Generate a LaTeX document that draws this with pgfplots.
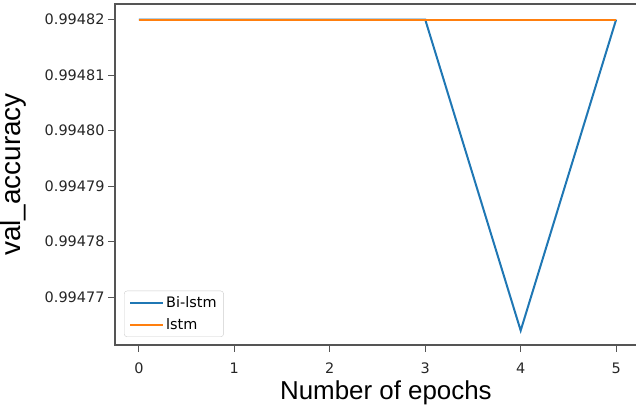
\documentclass[border=0pt]{standalone}
\usepackage{pgfplots}
\pgfplotsset{compat=1.18}
\usepackage{fontspec}
\setmainfont{DejaVu Sans}
\newfontfamily\labelfont{Liberation Sans}
\definecolor{mplblue}{HTML}{1F77B4}
\definecolor{mplorange}{HTML}{FF7F0E}
\definecolor{spine}{HTML}{555555}
\begin{document}
\begin{tikzpicture}
\useasboundingbox (0,0) rectangle (636bp,407bp);
\begin{axis}[
  at={(115bp,62bp)}, anchor=south west,
  scale only axis,
  width=525bp, height=341bp,
  xmin=-0.25, xmax=5.25,
  ymin=0.9947614, ymax=0.9948228,
  xtick={0,1,2,3,4,5},
  ytick={0.99477,0.99478,0.99479,0.99480,0.99481,0.99482},
  yticklabels={0.99477,0.99478,0.99479,0.99480,0.99481,0.99482},
  xtick pos=bottom, ytick pos=left,
  tick align=outside,
  major tick length=7bp,
  tick style={spine, line width=1bp},
  axis line style={spine, line width=1.2bp},
  ticklabel style={font=\fontsize{14.5}{16}\selectfont, text=black!85},
  xticklabel style={yshift=-7bp},
  /pgf/number format/assume math mode=true,
  xlabel={\labelfont\fontsize{26}{30}\selectfont Number of epochs},
  ylabel={\labelfont\fontsize{28}{32}\selectfont val\_accuracy},
  xlabel style={at={(axis description cs:0.516,0)}, anchor=north, yshift=-32bp},
  ylabel style={at={(axis description cs:0,0.5)}, anchor=south, yshift=85bp},
  legend style={at={(9bp,8bp)}, anchor=south west, font=\fontsize{14.5}{16}\selectfont,
    draw=black!20, rounded corners=3bp, fill=white, fill opacity=0.8, text opacity=1,
    row sep=5bp, inner xsep=5bp, inner ysep=4bp},
  legend cell align=left,
  legend image code/.code={\draw[#1, line width=2bp] (0bp,0bp) -- (33bp,0bp);},
  clip=false,
]
\addplot[mplblue, line width=2bp] coordinates {(0,0.99482) (1,0.99482) (2,0.99482) (3,0.99482) (4,0.994764) (5,0.99482)};
\addlegendentry{Bi-lstm}
\addplot[mplorange, line width=2bp] coordinates {(0,0.99482) (1,0.99482) (2,0.99482) (3,0.99482) (4,0.99482) (5,0.99482)};
\addlegendentry{lstm}
\end{axis}
\end{tikzpicture}
\end{document}
